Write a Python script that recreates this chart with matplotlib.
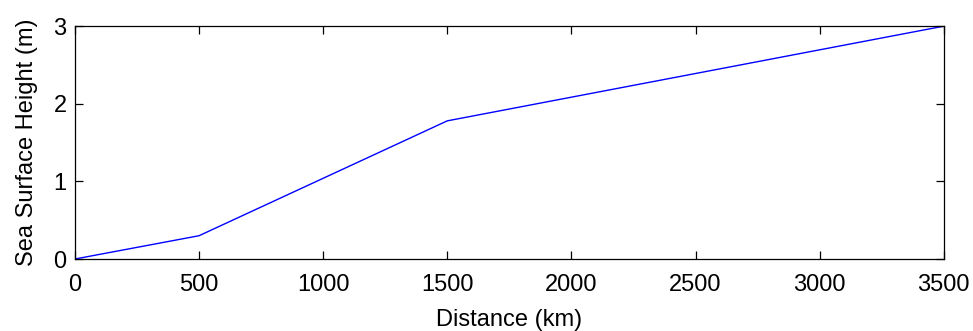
import matplotlib.pyplot as plt

# Sea surface height profile
distance_km = [0, 500, 1500, 3500]
height_m = [0.0, 0.30, 1.78, 3.0]

x_ticks = [0, 500, 1000, 1500, 2000, 2500, 3000, 3500]
y_ticks = [0, 1, 2, 3]

plt.rcParams['font.family'] = ['Liberation Sans', 'DejaVu Sans']

fig = plt.figure(figsize=(9.73, 3.31), dpi=100)
ax = fig.add_axes([0.077, 0.2175, 0.893, 0.7035])

ax.plot(distance_km, height_m, color='#0000ff', linewidth=1.0)

ax.set_xlim(0, 3500)
ax.set_ylim(0, 3)
ax.set_xticks(x_ticks)
ax.set_yticks(y_ticks)
ax.tick_params(direction='in', length=5.5, width=0.9, labelsize=17,
               top=True, right=True, pad=6)
ax.tick_params(axis='x', pad=11)
for s in ax.spines.values():
    s.set_linewidth(0.9)

ax.set_xlabel('Distance (km)', fontsize=17, labelpad=9)
ax.set_ylabel('Sea Surface Height (m)', fontsize=17, labelpad=11)

fig.savefig('out.png', dpi=100)
